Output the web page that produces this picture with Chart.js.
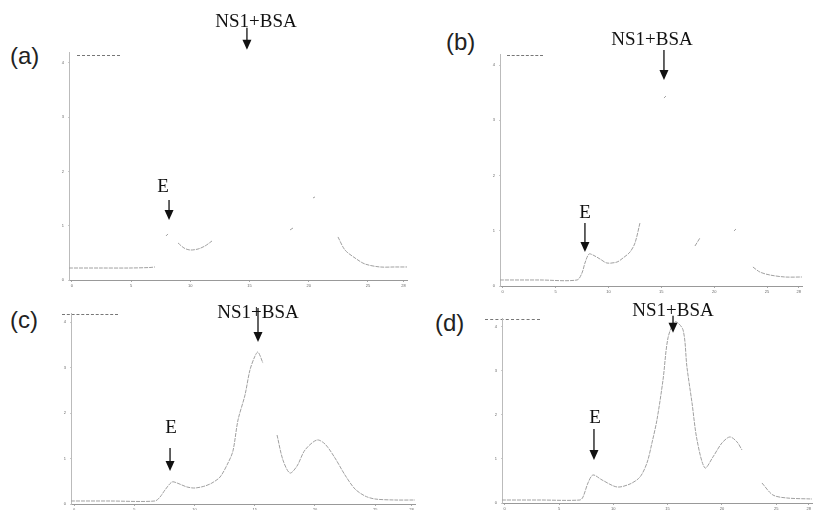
<!DOCTYPE html>
<html>
<head>
<meta charset="utf-8">
<script src="https://cdn.jsdelivr.net/npm/chart.js@4/dist/chart.umd.min.js"></script>
<style>
  html, body { margin: 0; padding: 0; background: #fff; }
  #page { position: relative; width: 816px; height: 510px; overflow: hidden; }
  canvas { position: absolute; }
  .tag { position: absolute; font-family: 'Liberation Sans', Arial, sans-serif; font-size: 24px; color: #222; line-height: 1; }
  .head { position: absolute; height: 0; border-top: 1px dashed #777; }
</style>
</head>
<body>
<div id="page">
  <div class="tag" style="left:10px; top:44px;">(a)</div>
  <div class="tag" style="left:446px; top:30px;">(b)</div>
  <div class="tag" style="left:10px; top:308px;">(c)</div>
  <div class="tag" style="left:435px; top:311px;">(d)</div>
  <div class="head" style="left:77px; top:55px; width:43px;"></div>
  <div class="head" style="left:507px; top:55px; width:36px;"></div>
  <div class="head" style="left:62px; top:314px; width:56px;"></div>
  <div class="head" style="left:485px; top:319px; width:55px;"></div>
  <canvas id="ca" width="354" height="292" style="left:55px; top:0px;"></canvas>
  <canvas id="cb" width="318" height="298" style="left:486px; top:0px;"></canvas>
  <canvas id="cc" width="360" height="226" style="left:57px; top:290px;"></canvas>
  <canvas id="cd" width="326" height="225" style="left:488px; top:290px;"></canvas>
</div>
<script>
// elution volume axis and absorbance axis ticks
const xTicks = [0, 5, 10, 15, 20, 25, 28];
const yTicks = [0, 1, 2, 3, 4];

// traces (null = part of the trace lost in the scan)
const xA = [-0.25, 2.37, 4.90, 6.59, 7.01, null, 7.94, 8.11, null, 8.96, 9.46, 9.97, 10.65, 11.24, 11.83, null, 18.42, 18.67, null, 20.36, 20.53, null, 22.47, 23.06, 23.91, 24.75, 26.02, 27.28, 28.30];
const yA = [0.221, 0.221, 0.221, 0.230, 0.240, null, 0.811, 0.848, null, 0.682, 0.590, 0.553, 0.571, 0.627, 0.719, null, 0.922, 0.958, null, 1.511, 1.530, null, 0.793, 0.553, 0.405, 0.295, 0.240, 0.240, 0.240];

const xB = [-0.25, 3.53, 7.03, 7.50, 7.78, 8.16, 8.54, 9.20, 9.86, 10.81, 11.38, 12.04, 12.51, 12.98, null, 15.25, 15.44, null, 18.18, 18.65, null, 21.87, 22.06, null, 23.66, 24.32, 25.27, 26.69, 28.29];
const yB = [0.109, 0.109, 0.109, 0.235, 0.416, 0.579, 0.561, 0.489, 0.416, 0.434, 0.507, 0.615, 0.778, 1.140, null, 3.403, 3.439, null, 0.724, 0.869, null, 0.996, 1.032, null, 0.344, 0.253, 0.199, 0.163, 0.163];

const xC = [-0.25, 2.99, 6.72, 7.14, 7.55, 8.13, 8.55, 9.38, 10.04, 10.87, 11.45, 12.12, 12.78, 13.19, 13.61, 14.19, 14.60, 15.02, 15.27, 15.68, null, 16.85, 17.34, 17.92, 18.51, 19.17, 20.16, 20.83, 21.66, 22.49, 23.32, 24.15, 24.98, 26.64, 28.30];
const yC = [0.066, 0.066, 0.066, 0.154, 0.308, 0.484, 0.462, 0.374, 0.352, 0.396, 0.462, 0.593, 0.901, 1.165, 1.846, 2.396, 2.945, 3.253, 3.341, 3.099, null, 1.517, 0.967, 0.681, 0.835, 1.187, 1.407, 1.319, 1.011, 0.637, 0.330, 0.176, 0.110, 0.088, 0.088];

const xD = [-0.25, 3.25, 6.93, 7.21, 7.67, 8.13, 8.96, 10.34, 11.54, 12.46, 13.10, 13.56, 14.02, 14.58, 15.04, 15.68, 16.42, 16.78, 17.25, 17.71, 18.44, 19.18, 20.01, 20.74, 21.39, 21.85, null, 23.69, 24.70, 25.99, 28.30];
const yD = [0.068, 0.068, 0.068, 0.136, 0.455, 0.636, 0.523, 0.364, 0.432, 0.591, 0.909, 1.364, 1.887, 2.796, 3.750, 4.114, 3.932, 3.091, 2.273, 1.432, 0.796, 1.046, 1.364, 1.500, 1.387, 1.205, null, 0.455, 0.182, 0.114, 0.091];

// arrow labels: x = elution position, tip = absorbance where the arrow points
const labelsA = [{ text: 'NS1+BSA', x: 14.78, tip: 4.24, len: 22, dx: 9, gap: 1 }, { text: 'E', x: 8.20, tip: 1.106, len: 20, dx: -6, gap: 8 }];
const labelsB = [{ text: 'NS1+BSA', x: 15.25, tip: 3.729, len: 30, dx: -12, gap: 5 }, { text: 'E', x: 7.78, tip: 0.615, len: 29, dx: 0, gap: 5 }];
const labelsC = [{ text: 'NS1+BSA', x: 15.27, tip: 3.561, len: 34, dx: 0, gap: -10 }, { text: 'E', x: 7.97, tip: 0.725, len: 23, dx: 1, gap: 15 }];
const labelsD = [{ text: 'NS1+BSA', x: 15.50, tip: 3.864, len: 17, dx: 0, gap: 0 }, { text: 'E', x: 8.22, tip: 0.977, len: 31, dx: 1, gap: 6 }];

const arrowLabels = {
    id: 'arrowLabels',
    afterDraw(chart, args, opts) {
        const { ctx, scales: { x, y } } = chart;
        (opts.items || []).forEach(a => {
            const px = x.getPixelForValue(a.x);
            const tip = y.getPixelForValue(a.tip);
            const top = tip - a.len;
            ctx.save();
            ctx.strokeStyle = '#111';
            ctx.fillStyle = '#111';
            ctx.lineWidth = 1.3;
            ctx.beginPath(); ctx.moveTo(px, top); ctx.lineTo(px, tip - 8); ctx.stroke();
            ctx.beginPath(); ctx.moveTo(px - 4.5, tip - 10); ctx.lineTo(px + 4.5, tip - 10); ctx.lineTo(px, tip); ctx.closePath(); ctx.fill();
            ctx.font = '19px "Liberation Serif", "Times New Roman", serif';
            ctx.textAlign = 'center';
            ctx.textBaseline = 'alphabetic';
            ctx.fillText(a.text, px + a.dx, top - a.gap);
            ctx.restore();
        });
    }
};

function points(xs, ys) {
    return xs.map((v, i) => ({ x: v === null ? xs[i - 1] : v, y: ys[i] }));
}

function panel(id, xs, ys, items, padTop) {
    new Chart(document.getElementById(id), {
        type: 'line',
        data: { datasets: [{ data: points(xs, ys), borderColor: '#a0a0a0', borderWidth: 1, borderDash: [4, 1], pointRadius: 0, spanGaps: false, tension: 0.3 }] },
        options: {
            responsive: false, animation: false,
            layout: { padding: { top: padTop, right: 2, left: 0, bottom: 0 } },
            plugins: { legend: { display: false }, tooltip: { enabled: false }, arrowLabels: { items } },
            scales: {
                x: {
                    type: 'linear', min: -0.25, max: 28.3,
                    afterBuildTicks: s => { s.ticks = xTicks.map(v => ({ value: v })); },
                    afterFit: s => { s.height = 12; },
                    ticks: { font: { size: 4 }, color: '#666', padding: 1, maxRotation: 0 },
                    grid: { drawOnChartArea: false, tickLength: 2, color: '#aaa' },
                    border: { color: '#999', dash: [5, 2] }
                },
                y: {
                    min: 0, max: 4.2,
                    afterBuildTicks: s => { s.ticks = yTicks.map(v => ({ value: v })); },
                    afterFit: s => { s.width = 14; },
                    ticks: { font: { size: 4 }, color: '#666', padding: 4 },
                    grid: { drawOnChartArea: false, tickLength: 1, color: '#ccc' },
                    border: { color: '#bbb', dash: [1, 3] }
                }
            }
        },
        plugins: [arrowLabels]
    });
}

panel('ca', xA, yA, labelsA, 52);
panel('cb', xB, yB, labelsB, 54);
panel('cc', xC, yC, labelsC, 23);
panel('cd', xD, yD, labelsD, 28);
</script>
</body>
</html>
